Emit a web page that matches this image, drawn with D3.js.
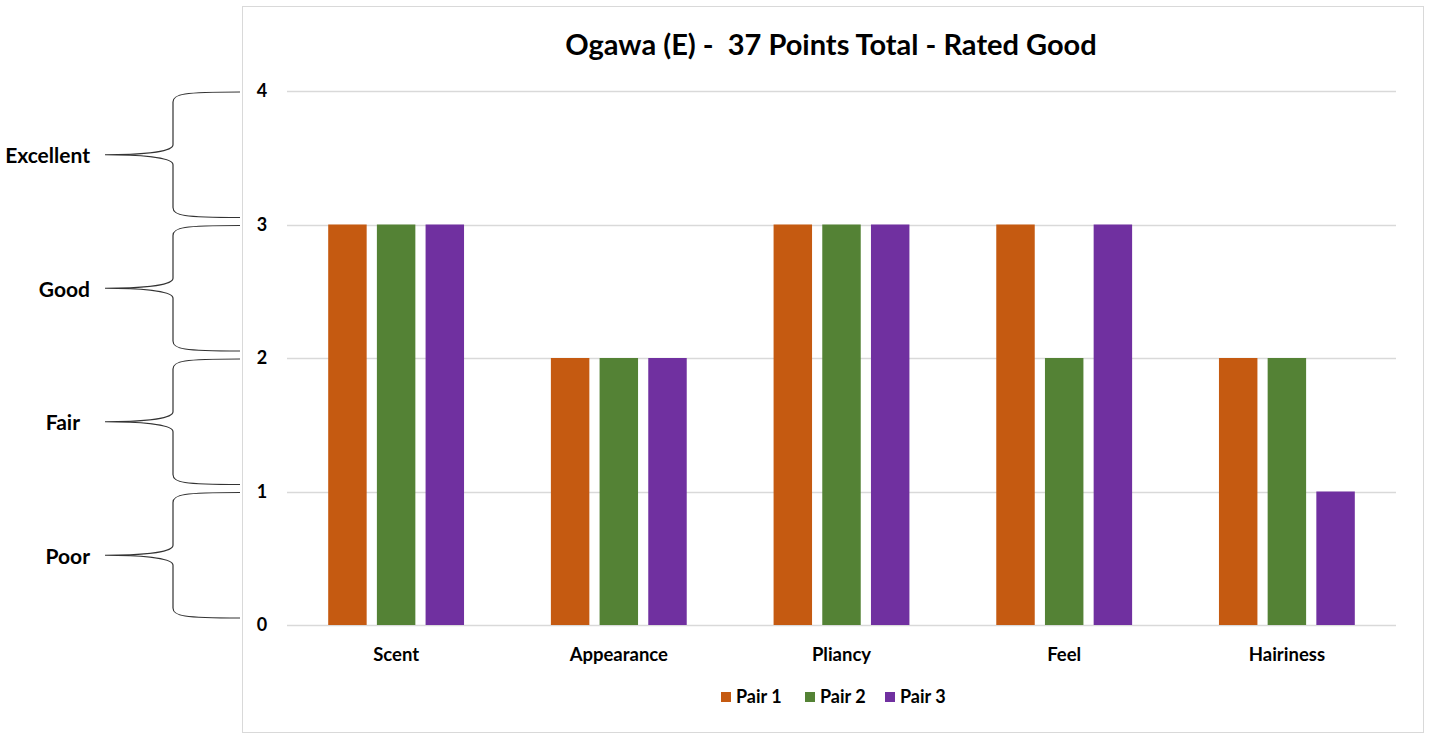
<!DOCTYPE html>
<html>
<head>
<meta charset="utf-8">
<script src="https://cdn.jsdelivr.net/npm/d3@7"></script>
<style>
  body { margin: 0; background: #fff; }
  svg { display: block; font-family: Lato, "Open Sans", sans-serif; font-weight: bold; }
</style>
</head>
<body>
<div id="chart"></div>
<script>
const categories = ["Scent", "Appearance", "Pliancy", "Feel", "Hairiness"]
const seriesNames = ["Pair 1", "Pair 2", "Pair 3"]
const pair1 = [3, 2, 3, 3, 2]
const pair2 = [3, 2, 3, 2, 2]
const pair3 = [3, 2, 3, 3, 1]
const yTicks = [0, 1, 2, 3, 4]
const ratings = ["Poor", "Fair", "Good", "Excellent"]
const title = "Ogawa (E) -  37 Points Total - Rated Good"

const colors = ["#C55A11", "#548235", "#7030A0"]
const seriesValues = [pair1, pair2, pair3]

const width = 1430, height = 740
const plot = {left: 287, right: 1396, top: 91, bottom: 625}

const svg = d3.select("#chart").append("svg")
  .attr("width", width)
  .attr("height", height)

// chart frame
svg.append("rect")
  .attr("x", 242.5).attr("y", 6.5)
  .attr("width", 1181).attr("height", 726)
  .attr("fill", "#fff")
  .attr("stroke", "#d9d9d9")

const x0 = d3.scaleBand()
  .domain(categories)
  .range([plot.left, plot.right])
  .paddingInner(0.39)
  .paddingOuter(0.185)

const x1 = d3.scaleBand()
  .domain(seriesNames)
  .range([0, x0.bandwidth()])
  .paddingInner(0.21)

const y = d3.scaleLinear()
  .domain([0, 4])
  .range([plot.bottom, plot.top])

// gridlines
svg.append("g")
  .selectAll("line")
  .data(yTicks)
  .join("line")
  .attr("x1", plot.left)
  .attr("x2", plot.right)
  .attr("y1", d => Math.round(y(d)) + 0.5)
  .attr("y2", d => Math.round(y(d)) + 0.5)
  .attr("stroke", "#d9d9d9")
  .attr("stroke-width", 1.3)

// y axis labels
const yAxis = svg.append("g")
  .attr("transform", `translate(${plot.left - 25},0)`)
  .call(d3.axisLeft(y).tickValues(yTicks).tickSize(0).tickPadding(0).tickFormat(d3.format("d")))
yAxis.select(".domain").remove()
yAxis.selectAll("text")
  .attr("text-anchor", "middle")
  .attr("font-family", "Lato, sans-serif")
  .attr("font-weight", "bold")
  .attr("font-size", 18)
  .attr("fill", "#000")

// bars
const rows = categories.map((c, i) => ({
  category: c,
  values: seriesNames.map((s, j) => ({series: s, value: seriesValues[j][i], color: colors[j]}))
}))

svg.append("g")
  .selectAll("g")
  .data(rows)
  .join("g")
  .attr("transform", d => `translate(${x0(d.category)},0)`)
  .selectAll("rect")
  .data(d => d.values)
  .join("rect")
  .attr("x", d => x1(d.series))
  .attr("y", d => y(d.value))
  .attr("width", x1.bandwidth())
  .attr("height", d => y(0) - y(d.value))
  .attr("fill", d => d.color)

// category labels
const xAxis = svg.append("g")
  .attr("transform", `translate(0,${plot.bottom + 30})`)
  .call(d3.axisBottom(x0).tickSize(0).tickPadding(0))
xAxis.select(".domain").remove()
xAxis.selectAll("text")
  .attr("font-family", "Lato, sans-serif")
  .attr("font-weight", "bold")
  .attr("font-size", 18.5)
  .attr("fill", "#000")
  .attr("dy", "0.35em")

// title
svg.append("text")
  .attr("x", 831)
  .attr("y", 45)
  .attr("dy", "0.35em")
  .attr("text-anchor", "middle")
  .attr("font-size", 29)
  .attr("fill", "#000")
  .style("white-space", "pre")
  .text(title)

// braces with rating labels
function brace(top, bottom, right, spine, tip) {
  const mid = (top + bottom) / 2
  const c = 10
  return `M${right},${top}` +
    `C${spine + 10},${top} ${spine},${top + 2} ${spine},${top + c}` +
    `L${spine},${mid - c}` +
    `C${spine},${mid - 2} ${tip + 30},${mid} ${tip},${mid}` +
    `C${tip + 30},${mid} ${spine},${mid + 2} ${spine},${mid + c}` +
    `L${spine},${bottom - c}` +
    `C${spine},${bottom - 2} ${spine + 10},${bottom} ${right},${bottom}`
}

const braces = svg.append("g")
braces.selectAll("path")
  .data(ratings)
  .join("path")
  .attr("d", (d, i) => brace(y(i + 1) + 1, y(i) - 7, 240, 173, 105))
  .attr("fill", "none")
  .attr("stroke", "#333")
  .attr("stroke-width", 1.2)

braces.selectAll("text")
  .data(ratings)
  .join("text")
  .attr("x", d => d === "Fair" ? 80 : 90)
  .attr("y", (d, i) => (y(i + 1) + 1 + y(i) - 7) / 2 + 1)
  .attr("dy", "0.35em")
  .attr("text-anchor", "end")
  .attr("font-size", 21)
  .attr("fill", "#000")
  .text(d => d)

// legend
const legendX = [721, 805, 885]
const legend = svg.append("g")
  .selectAll("g")
  .data(seriesNames)
  .join("g")
  .attr("transform", (d, i) => `translate(${legendX[i]},697)`)
legend.append("rect")
  .attr("x", 0).attr("y", -5)
  .attr("width", 10).attr("height", 10)
  .attr("fill", (d, i) => colors[i])
legend.append("text")
  .attr("x", 15)
  .attr("dy", "0.35em")
  .attr("font-size", 18)
  .attr("fill", "#000")
  .text(d => d)
</script>
</body>
</html>
